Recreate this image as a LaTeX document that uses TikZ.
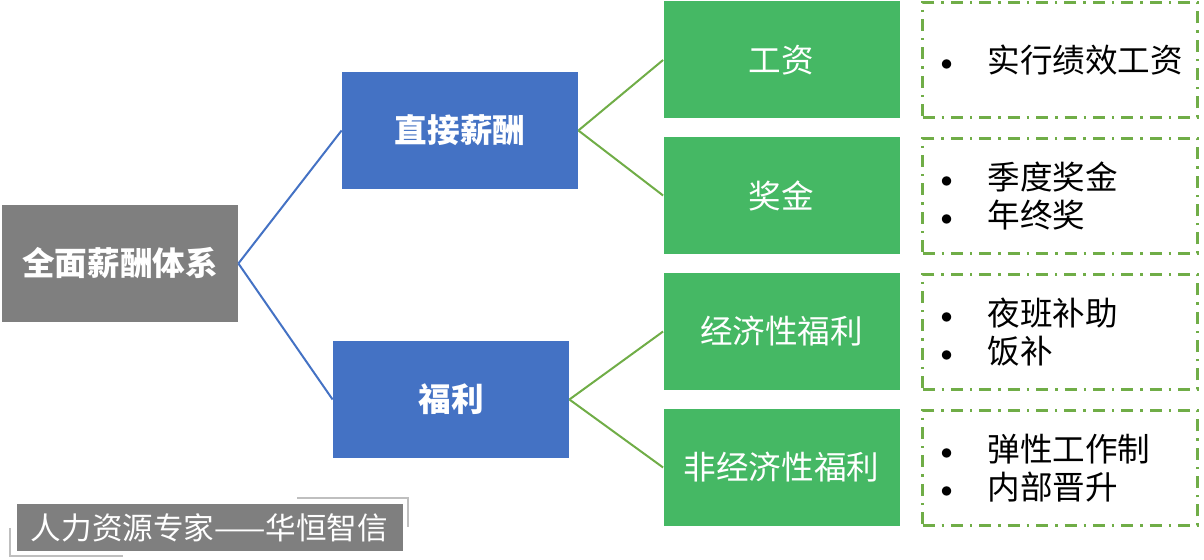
\documentclass[tikz,border=0pt]{standalone}
\usepackage{fontspec}
\usepackage{graphicx}
\setmainfont{Noto Sans CJK SC}
\definecolor{rootgray}{HTML}{7F7F7F}
\definecolor{midblue}{HTML}{4472C4}
\definecolor{leafgreen}{HTML}{45B864}
\definecolor{olive}{HTML}{70AD47}
\definecolor{tagline}{HTML}{BFBFBF}
\newcommand{\itm}[1]{\makebox[23.5pt][l]{\raisebox{1pt}{\scalebox{0.7}{$\bullet$}}}#1}
\begin{document}
\begin{tikzpicture}[x=0.5pt,y=-0.5pt]
\tikzstyle{box} = [minimum width=118pt, minimum height=58.5pt, inner sep=0pt, text=white, font=\fontsize{16.3}{20}\selectfont]
\tikzstyle{rootbox} = [box, fill=rootgray, font=\fontsize{16.3}{20}\selectfont\bfseries]
\tikzstyle{midbox} = [box, fill=midblue, font=\fontsize{16.3}{20}\selectfont\bfseries]
\tikzstyle{leafbox} = [box, fill=leafgreen]
\tikzstyle{notebox} = [draw=olive, line width=1.5pt, dash pattern=on 6pt off 3.5pt on 1.2pt off 3.5pt, minimum width=137.5pt, minimum height=57.5pt, inner xsep=9pt, text width=119.5pt, align=left, font=\fontsize{16.3}{19}\selectfont]
\tikzstyle{bluelink} = [draw=midblue, line width=1pt]
\tikzstyle{greenlink} = [draw=olive, line width=1pt]
\useasboundingbox (0,0) rectangle (1204,560);

% root and second level
\node[rootbox] (Total) at (120,263.5) {全面薪酬体系};
\node[midbox] (Direct) at (460,130.5) {直接薪酬};
\node[midbox] (Welfare) at (451,399.5) {福利};

% third level
\node[leafbox] (Wage) at (781.5,60) {工资};
\node[leafbox] (Bonus) at (781.5,195.5) {奖金};
\node[leafbox] (EconW) at (781.5,331.5) {经济性福利};
\node[leafbox] (NonEconW) at (781.5,467.5) {非经济性福利};

% notes
\node[notebox] (WageNote) at (1060,60) {\itm{实行绩效工资}};
\node[notebox] (BonusNote) at (1060,196) {\itm{季度奖金}\\\itm{年终奖}};
\node[notebox] (EconNote) at (1060,332) {\itm{夜班补助}\\\itm{饭补}};
\node[notebox] (NonEconNote) at (1060,468) {\itm{弹性工作制}\\\itm{内部晋升}};

% links
\path[bluelink] (Total.east) -- (Direct.west);
\path[bluelink] (Total.east) -- (Welfare.west);
\path[greenlink] (Direct.east) -- (Wage.west);
\path[greenlink] (Direct.east) -- (Bonus.west);
\path[greenlink] (Welfare.east) -- (EconW.west);
\path[greenlink] (Welfare.east) -- (NonEconW.west);

% tag
\node[fill=rootgray, text=white, minimum width=193pt, minimum height=23.5pt, inner sep=0pt, font=\fontsize{15.3}{18}\selectfont] (Tag) at (209.5,527.5) {人力资源专家——华恒智信};
\coordinate (TagA) at (297,498);
\coordinate (TagB) at (408,498);
\coordinate (TagC) at (408,527);
\coordinate (TagD) at (10,528);
\coordinate (TagE) at (10,556);
\coordinate (TagF) at (123,556);
\draw[tagline, line width=1pt] (TagA) -- (TagB) -- (TagC);
\draw[tagline, line width=1pt] (TagD) -- (TagE) -- (TagF);
\end{tikzpicture}
\end{document}
